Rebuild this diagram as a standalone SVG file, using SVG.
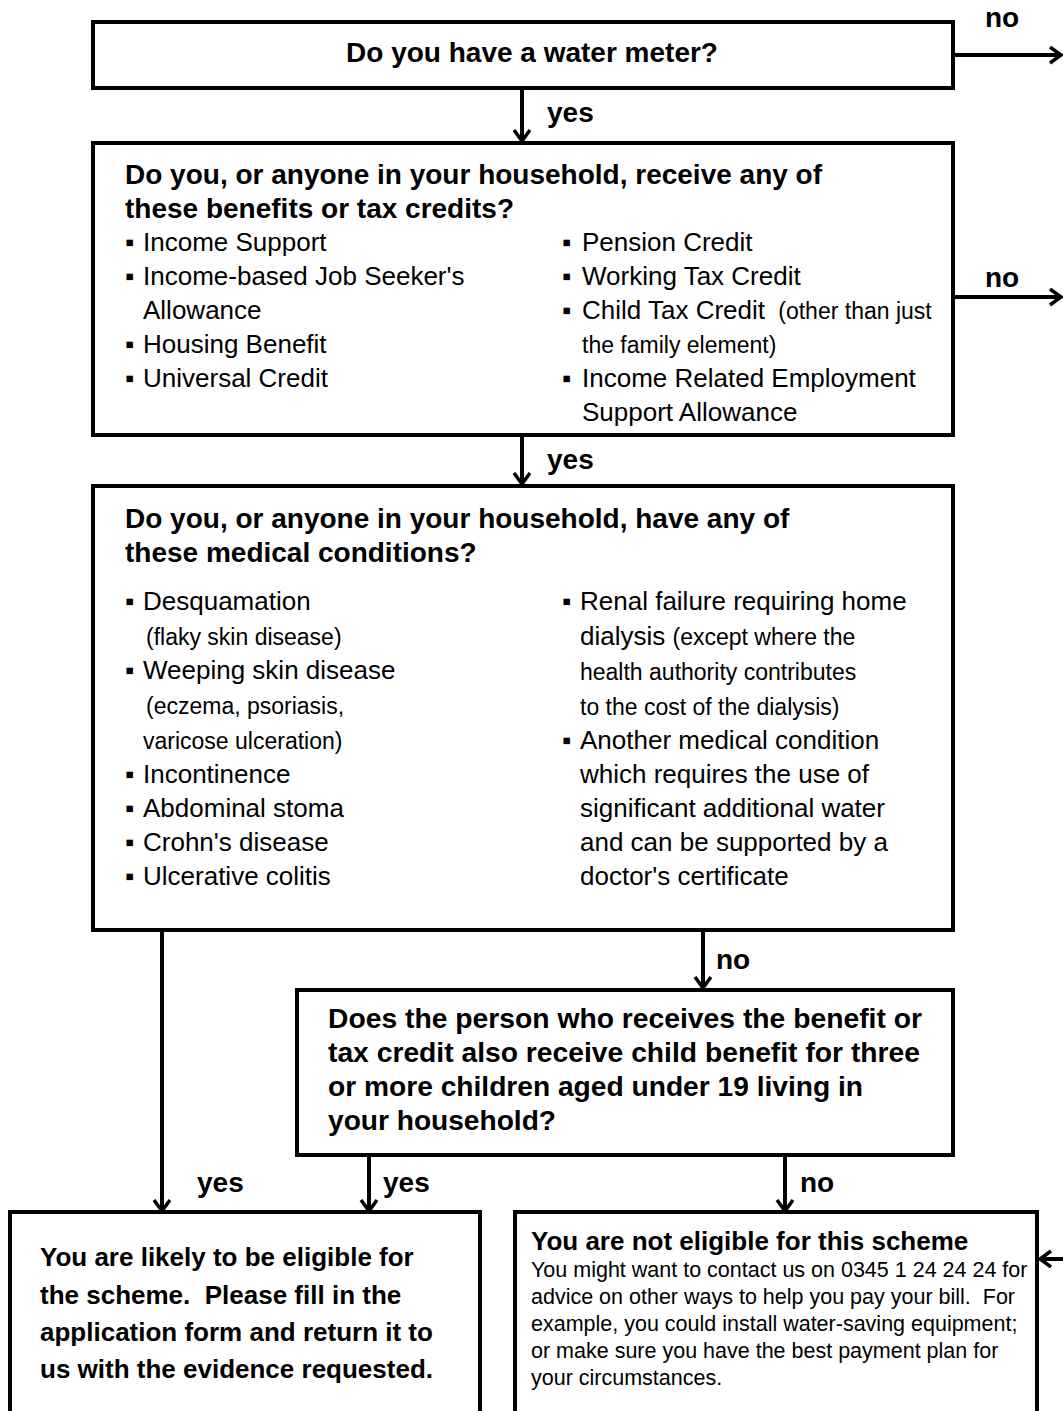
<svg xmlns="http://www.w3.org/2000/svg" width="1063" height="1411" viewBox="0 0 1063 1411">
<style>
.box{fill:#fff;stroke:#000;stroke-width:4}
.c{fill:none;stroke:#000;stroke-width:4}
text{font-family:"Liberation Sans",Arial,sans-serif;fill:#000}
.h{font-size:28px;font-weight:bold}
.h2{font-size:26px;font-weight:bold}
.t{font-size:26px}
.s{font-size:23px}
.sm{font-size:21.5px}
.lbl{font-size:28px;font-weight:bold}
.b{font-size:26px}
</style>
<defs>
<marker id="ah" markerWidth="16" markerHeight="20" refX="13" refY="9" orient="auto" markerUnits="userSpaceOnUse">
<path d="M2,1 L13,9 L2,17" fill="none" stroke="#000" stroke-width="3.5"/>
</marker>
</defs>
<g id="connectors">
<path class="c" d="M953,55 H1061" marker-end="url(#ah)"/>
<path class="c" d="M522,88 V141" marker-end="url(#ah)"/>
<path class="c" d="M953,297 H1061" marker-end="url(#ah)"/>
<path class="c" d="M522,435 V484" marker-end="url(#ah)"/>
<path class="c" d="M162,930 V1211" marker-end="url(#ah)"/>
<path class="c" d="M703,930 V988" marker-end="url(#ah)"/>
<path class="c" d="M369,1155 V1211" marker-end="url(#ah)"/>
<path class="c" d="M785,1155 V1211" marker-end="url(#ah)"/>
<path class="c" d="M1063,1259 H1040" marker-end="url(#ah)"/>
<text class="lbl" x="985" y="27">no</text>
<text class="lbl" x="547" y="122">yes</text>
<text class="lbl" x="985" y="287">no</text>
<text class="lbl" x="547" y="469">yes</text>
<text class="lbl" x="197" y="1192">yes</text>
<text class="lbl" x="716" y="969">no</text>
<text class="lbl" x="383" y="1192">yes</text>
<text class="lbl" x="800" y="1192">no</text>
</g>
<g id="n1">
<rect class="box" x="93" y="22" width="860" height="66"/>
<text class="h" x="532" y="62" text-anchor="middle">Do you have a water meter?</text>
</g>
<g id="n2">
<rect class="box" x="93" y="143" width="860" height="292"/>
<text class="h" x="125" y="184">Do you, or anyone in your household, receive any of</text>
<text class="h" x="125" y="218">these benefits or tax credits?</text>
<g class="t">
<text class="b" x="125" y="251">▪</text><text x="143" y="251">Income Support</text>
<text class="b" x="125" y="285">▪</text><text x="143" y="285">Income-based Job Seeker's</text>
<text x="143" y="319">Allowance</text>
<text class="b" x="125" y="353">▪</text><text x="143" y="353">Housing Benefit</text>
<text class="b" x="125" y="387">▪</text><text x="143" y="387">Universal Credit</text>
<text class="b" x="562" y="251">▪</text><text x="582" y="251">Pension Credit</text>
<text class="b" x="562" y="285">▪</text><text x="582" y="285">Working Tax Credit</text>
<text class="b" x="562" y="319">▪</text><text x="582" y="319">Child Tax Credit <tspan class="s" dx="6">(other than just</tspan></text>
<text class="s" x="582" y="353">the family element)</text>
<text class="b" x="562" y="387">▪</text><text x="582" y="387">Income Related Employment</text>
<text x="582" y="421">Support Allowance</text>
</g>
</g>
<g id="n3">
<rect class="box" x="93" y="486" width="860" height="444"/>
<text class="h" x="125" y="528">Do you, or anyone in your household, have any of</text>
<text class="h" x="125" y="562">these medical conditions?</text>
<g class="t">
<text class="b" x="125" y="610">▪</text><text x="143" y="610">Desquamation</text>
<text class="s" x="146" y="645">(flaky skin disease)</text>
<text class="b" x="125" y="679">▪</text><text x="143" y="679">Weeping skin disease</text>
<text class="s" x="146" y="714">(eczema, psoriasis,</text>
<text class="s" x="143" y="749">varicose ulceration)</text>
<text class="b" x="125" y="783">▪</text><text x="143" y="783">Incontinence</text>
<text class="b" x="125" y="817">▪</text><text x="143" y="817">Abdominal stoma</text>
<text class="b" x="125" y="851">▪</text><text x="143" y="851">Crohn's disease</text>
<text class="b" x="125" y="885">▪</text><text x="143" y="885">Ulcerative colitis</text>
<text class="b" x="562" y="610">▪</text><text x="580" y="610">Renal failure requiring home</text>
<text x="580" y="645">dialysis <tspan class="s">(except where the</tspan></text>
<text class="s" x="580" y="680">health authority contributes</text>
<text class="s" x="580" y="715">to the cost of the dialysis)</text>
<text class="b" x="562" y="749">▪</text><text x="580" y="749">Another medical condition</text>
<text x="580" y="783">which requires the use of</text>
<text x="580" y="817">significant additional water</text>
<text x="580" y="851">and can be supported by a</text>
<text x="580" y="885">doctor's certificate</text>
</g>
</g>
<g id="n4">
<rect class="box" x="297" y="990" width="656" height="165"/>
<text class="h" x="328" y="1028" textLength="594" lengthAdjust="spacingAndGlyphs">Does the person who receives the benefit or</text>
<text class="h" x="328" y="1062" textLength="592" lengthAdjust="spacingAndGlyphs">tax credit also receive child benefit for three</text>
<text class="h" x="328" y="1096" textLength="535" lengthAdjust="spacingAndGlyphs">or more children aged under 19 living in</text>
<text class="h" x="328" y="1130" textLength="228" lengthAdjust="spacingAndGlyphs">your household?</text>
</g>
<g id="n5">
<rect class="box" x="10" y="1212" width="470" height="220"/>
<text class="h2" x="40" y="1266">You are likely to be eligible for</text>
<text class="h2" x="40" y="1304">the scheme.&#160; Please fill in the</text>
<text class="h2" x="40" y="1341">application form and return it to</text>
<text class="h2" x="40" y="1378">us with the evidence requested.</text>
</g>
<g id="n6">
<rect class="box" x="515" y="1212" width="522" height="220"/>
<text class="h2" x="531" y="1250">You are not eligible for this scheme</text>
<g class="sm">
<text x="531" y="1277">You might want to contact us on 0345 1 24 24 24 for</text>
<text x="531" y="1304">advice on other ways to help you pay your bill.&#160; For</text>
<text x="531" y="1331">example, you could install water-saving equipment;</text>
<text x="531" y="1358">or make sure you have the best payment plan for</text>
<text x="531" y="1385">your circumstances.</text>
</g>
</g>
</svg>
